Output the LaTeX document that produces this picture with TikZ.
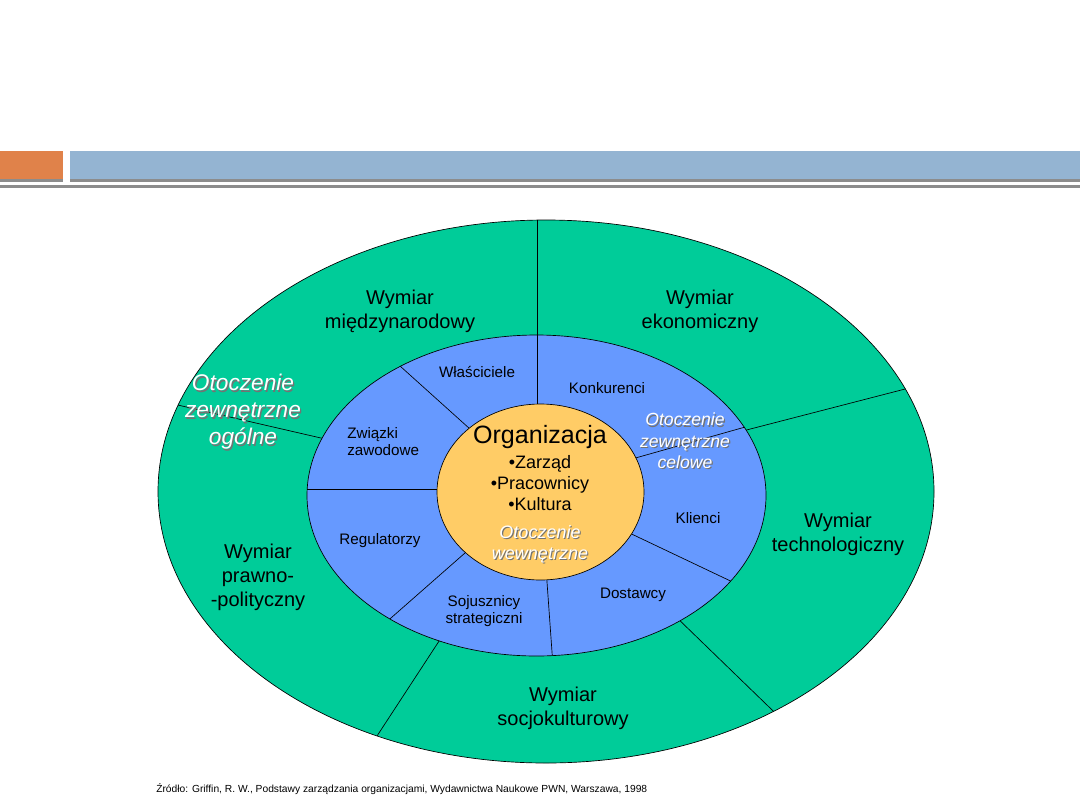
\documentclass[tikz,border=0pt]{standalone}
\usepackage{fontspec}
\setmainfont{Liberation Sans}
\definecolor{ringgreen}{HTML}{00CC99}
\definecolor{ringblue}{HTML}{6699FF}
\definecolor{coreyellow}{HTML}{FFCC66}
\definecolor{barorange}{HTML}{E0824A}
\definecolor{barblue}{HTML}{94B4D2}
\definecolor{bargray}{HTML}{8C8C8C}
\begin{document}
\begin{tikzpicture}[x=0.75pt,y=-0.75pt,line cap=round,
    divider/.style={draw=black,line width=0.5pt},
    dimtext/.style={font=\fontsize{15}{18}\selectfont,align=center,inner sep=0pt},
    ringtext/.style={font=\fontsize{11.4}{12.75}\selectfont,align=center,inner sep=0pt},
    coretext/.style={font=\fontsize{13.5}{15.75}\selectfont,align=center,inner sep=0pt},
    envbig/.style={font=\fontsize{17}{20.25}\selectfont\itshape,align=center,inner sep=0pt},
    envmid/.style={font=\fontsize{13.2}{16}\selectfont\itshape,align=center,inner sep=0pt},
    envcore/.style={font=\fontsize{13.5}{15.75}\selectfont\itshape,align=center,inner sep=0pt},
    shade/.style={text=black!55}]
  \useasboundingbox (0,0) rectangle (1080,810);

  % header bars
  \fill[barorange] (0,151) rectangle (63,179);
  \fill[bargray] (0,179) rectangle (63,182);
  \fill[barblue] (70,151) rectangle (1080,179);
  \fill[bargray] (70,179) rectangle (1080,182);
  \fill[bargray] (0,185) rectangle (1080,188);

  \coordinate (outerc) at (546,491.5);
  \coordinate (midc) at (536.5,495.5);
  \coordinate (corec) at (540.5,492);

  % outer ring: otoczenie ogolne
  \fill[ringgreen] (outerc) ellipse (388 and 271.5);
  \begin{scope}
    \clip (outerc) ellipse (388 and 271.5);
    \draw[divider] (537,400) -- (537,200);
    \draw[divider] (360,447) -- (130,394);
    \draw[divider] (700,442) -- (940,380);
    \draw[divider] (640,582) -- (800,737);
    \draw[divider] (460,609) -- (360,762);
  \end{scope}
  \draw[divider] (outerc) ellipse (388 and 271.5);

  % middle ring: otoczenie celowe
  \fill[ringblue] (midc) ellipse (229.5 and 160.5);
  \begin{scope}
    \clip (midc) ellipse (229.5 and 160.5);
    \draw[divider] (537,450) -- (537,300);
    \draw[divider] (380,348) -- (500,456);
    \draw[divider] (300,489) -- (480,489);
    \draw[divider] (375,632) -- (490,531);
    \draw[divider] (544,540) -- (554,680);
    \draw[divider] (600,519) -- (760,595);
    \draw[divider] (600,468) -- (770,420);
  \end{scope}
  \draw[divider] (midc) ellipse (229.5 and 160.5);

  % core: organizacja
  \path[divider,fill=coreyellow] (corec) ellipse (103.5 and 88);

  % outer labels
  \node[dimtext] (intl) at (400,311) {Wymiar\\międzynarodowy};
  \node[dimtext] (ekon) at (700,311) {Wymiar\\ekonomiczny};
  \node[dimtext] (tech) at (838,534) {Wymiar\\technologiczny};
  \node[dimtext] (prawo) at (258,577) {Wymiar\\prawno-\\-polityczny};
  \node[dimtext] (socjo) at (563,708) {Wymiar\\socjokulturowy};
  \node[envbig,shade] at (244.3,413.3) {Otoczenie\\zewnętrzne\\ogólne};
  \node[envbig,white] (ogolne) at (243,412) {Otoczenie\\zewnętrzne\\ogólne};

  % middle labels
  \node[ringtext] (wlasc) at (477,372) {Właściciele};
  \node[ringtext] (konk) at (607,388) {Konkurenci};
  \node[ringtext,align=left,anchor=west] (zwiazki) at (347,442) {Związki\\zawodowe};
  \node[ringtext] (regul) at (380,541) {Regulatorzy};
  \node[ringtext] (klienci) at (698,518) {Klienci};
  \node[ringtext] (dostawcy) at (633,595) {Dostawcy};
  \node[ringtext] (sojusz) at (484,611) {Sojusznicy\\strategiczni};
  \node[envmid,shade] at (686.2,442.2) {Otoczenie\\zewnętrzne\\celowe};
  \node[envmid,white] (celowe) at (685,441) {Otoczenie\\zewnętrzne\\celowe};

  % core labels
  \node[inner sep=0pt,font=\fontsize{18.8}{22}\selectfont] (org) at (540,437) {Organizacja};
  \node[coretext] (elem) at (540,483) {•Zarząd\\•Pracownicy\\•Kultura};
  \node[envcore,shade] at (541.2,545.2) {Otoczenie\\wewnętrzne};
  \node[envcore,white] (wewn) at (540,544) {Otoczenie\\wewnętrzne};

  % source
  \node[inner sep=0pt,anchor=west,font=\fontsize{7.7}{9}\selectfont] (zrodlo) at (156,789)
    {Źródło: Griffin, R. W., Podstawy zarządzania organizacjami, Wydawnictwa Naukowe PWN, Warszawa, 1998};
\end{tikzpicture}
\end{document}
